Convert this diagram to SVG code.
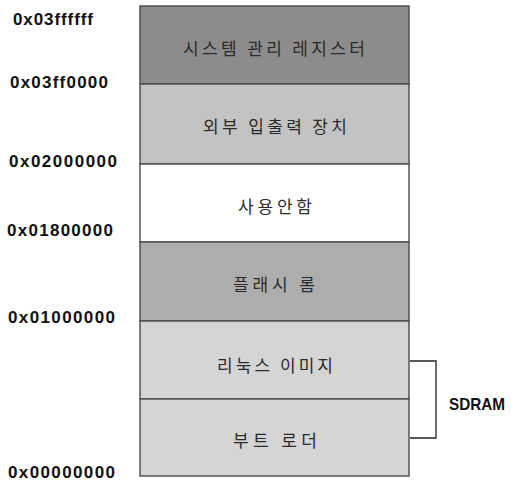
<svg xmlns="http://www.w3.org/2000/svg" width="516" height="482" viewBox="0 0 516 482">
<style>
.sec{stroke:#4a4a4a;stroke-width:1.4}
.kt{font-family:"Noto Sans CJK KR","Noto Sans",sans-serif;font-size:17px;fill:#2a2a2a;text-anchor:middle}
.ht{font-family:"Liberation Sans",Arial,sans-serif;font-size:17px;font-weight:bold;fill:#111}
.conn{fill:none;stroke:#222;stroke-width:1.3}
</style>
<rect width="516" height="482" fill="#ffffff"/>
<g id="sec-sysreg">
<rect class="sec" x="140" y="6" width="269" height="78" fill="#8c8c8c"/>
<text class="kt" x="274" y="55" textLength="182" lengthAdjust="spacing">시스템 관리 레지스터</text>
</g>
<g id="sec-io">
<rect class="sec" x="140" y="84" width="269" height="80" fill="#c3c3c3"/>
<text class="kt" x="275" y="133" textLength="144" lengthAdjust="spacing">외부 입출력 장치</text>
</g>
<g id="sec-unused">
<rect class="sec" x="140" y="164" width="269" height="78" fill="#ffffff"/>
<text class="kt" x="275" y="213" textLength="74" lengthAdjust="spacing">사용안함</text>
</g>
<g id="sec-flash">
<rect class="sec" x="140" y="242" width="269" height="79" fill="#adadad"/>
<text class="kt" x="274" y="291" textLength="82" lengthAdjust="spacing">플래시 롬</text>
</g>
<g id="sec-linux">
<rect class="sec" x="140" y="321" width="269" height="78" fill="#d5d5d5"/>
<text class="kt" x="275" y="372" textLength="116" lengthAdjust="spacing">리눅스 이미지</text>
</g>
<g id="sec-boot">
<rect class="sec" x="140" y="399" width="269" height="77" fill="#d5d5d5"/>
<text class="kt" x="275" y="447" textLength="84" lengthAdjust="spacing">부트 로더</text>
</g>
<g id="addresses">
<text class="ht" x="13" y="25" textLength="80" lengthAdjust="spacing">0x03ffffff</text>
<text class="ht" x="10" y="88" textLength="98" lengthAdjust="spacing">0x03ff0000</text>
<text class="ht" x="9" y="167" textLength="108" lengthAdjust="spacing">0x02000000</text>
<text class="ht" x="7" y="236" textLength="106" lengthAdjust="spacing">0x01800000</text>
<text class="ht" x="8" y="323" textLength="107" lengthAdjust="spacing">0x01000000</text>
<text class="ht" x="8" y="478" textLength="107" lengthAdjust="spacing">0x00000000</text>
</g>
<g id="connectors">
<polyline class="conn" points="410,361 436,361 436,438 410,438"/>
</g>
<g id="sdram-label">
<text class="ht" x="449" y="410" textLength="56" lengthAdjust="spacingAndGlyphs">SDRAM</text>
</g>
</svg>
